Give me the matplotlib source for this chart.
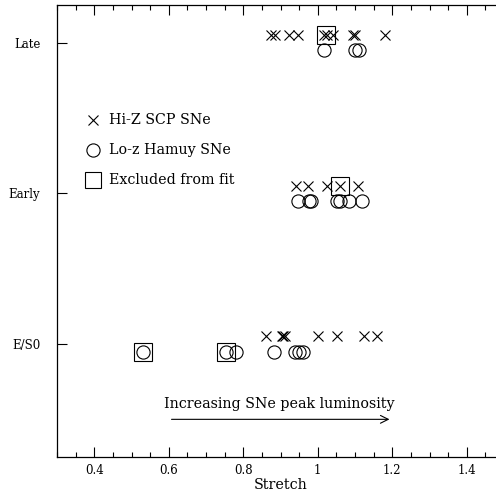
import matplotlib
matplotlib.use("Agg")
from matplotlib import pyplot as plt
from matplotlib.ticker import MultipleLocator

plt.rcParams['font.family'] = ['DejaVu Serif']

# host galaxy categories (y positions 1, 2, 3)
categories = ['E/S0', 'Early', 'Late']

# stretch values, Hi-Z SCP SNe (crosses)
hiz_late = [0.874, 0.884, 0.922, 0.946, 1.018, 1.024, 1.040, 1.094, 1.100, 1.180]
hiz_early = [0.941, 0.973, 1.024, 1.061, 1.107]
hiz_es0 = [0.860, 0.903, 0.908, 0.913, 1.002, 1.051, 1.123, 1.158]

# stretch values, Lo-z Hamuy SNe (circles)
loz_late = [1.016, 1.099, 1.112]
loz_early = [0.946, 0.976, 0.982, 1.051, 1.059, 1.085, 1.118]
loz_es0 = [0.531, 0.753, 0.780, 0.882, 0.938, 0.949, 0.960]

# excluded from fit (squares)
excl_x = [1.021, 1.061, 0.531, 0.755]
excl_y = [3.05, 2.05, 0.95, 0.95]

legend_labels = ['Hi-Z SCP SNe', 'Lo-z Hamuy SNe', 'Excluded from fit']
arrow_text = 'Increasing SNe peak luminosity'

fig = plt.figure(figsize=(4.96, 4.94), dpi=100)
ax = fig.add_axes([57 / 496, 37 / 494, 447 / 496, 452 / 494])

mk = dict(linestyle='none', color='black', markerfacecolor='none', markeredgewidth=0.8)
for y, xs in zip([3, 2, 1], [hiz_late, hiz_early, hiz_es0]):
    ax.plot(xs, [y + 0.05] * len(xs), marker='x', markersize=7, **mk)
for y, xs in zip([3, 2, 1], [loz_late, loz_early, loz_es0]):
    ax.plot(xs, [y - 0.05] * len(xs), marker='o', markersize=9.5, **mk)
ax.plot(excl_x, excl_y, marker='s', markersize=13.5, **mk)

# legend drawn by hand
leg_y = [2.49, 2.29, 2.09]
ax.plot([0.397], [leg_y[0]], marker='x', markersize=7, **mk)
ax.plot([0.397], [leg_y[1]], marker='o', markersize=9.5, **mk)
ax.plot([0.397], [leg_y[2]], marker='s', markersize=11.5, **mk)
for y, lab in zip(leg_y, legend_labels):
    ax.text(0.44, y, lab, fontsize=10.3, va='center', ha='left')

ax.annotate('', xy=(1.2, 0.5), xytext=(0.6, 0.5),
            arrowprops=dict(arrowstyle='->', color='black', lw=0.8,
                            mutation_scale=14))
ax.text(0.588, 0.6, arrow_text, fontsize=10.3, ha='left', va='center')

ax.set_xlim(0.3, 1.5)
ax.set_ylim(0.25, 3.25)
ax.set_yticks([1, 2, 3])
ax.set_yticklabels(categories)
ax.xaxis.set_minor_locator(MultipleLocator(0.05))
ax.set_xticks([0.4, 0.6, 0.8, 1.0, 1.2, 1.4])
ax.set_xticklabels(['0.4', '0.6', '0.8', '1', '1.2', '1.4'])
ax.tick_params(which='both', direction='in', top=True, right=False, labelsize=8.5, width=0.8)
ax.tick_params(which='major', length=7)
ax.tick_params(which='minor', length=3.5)
ax.tick_params(axis='y', which='minor', left=False)
ax.tick_params(axis='y', pad=12)
ax.tick_params(axis='x', pad=5)
for s in ax.spines.values():
    s.set_linewidth(0.9)
ax.set_xlabel('Stretch', fontsize=10.3, labelpad=1)

fig.savefig('out.png', dpi=100)
